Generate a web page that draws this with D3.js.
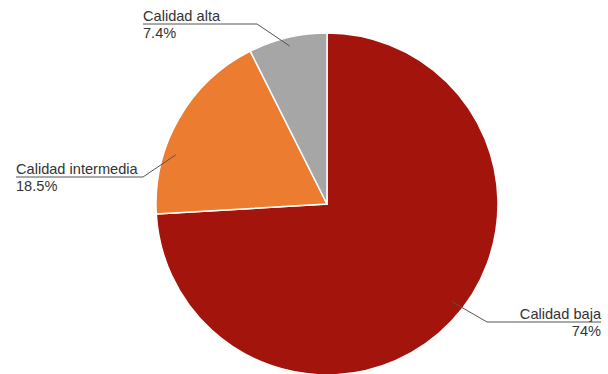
<!DOCTYPE html>
<html><head><meta charset="utf-8">
<script src="https://cdn.jsdelivr.net/npm/d3@7"></script>
<style>html,body{margin:0;padding:0;background:#fff;}svg{display:block;}</style>
</head><body>
<svg id="c" width="608" height="374"></svg>
<script>
const categories = ["Calidad baja", "Calidad intermedia", "Calidad alta"];
const values = [74, 18.5, 7.4];
const valueLabels = ["74%", "18.5%", "7.4%"];
const colors = ["#A3150C", "#EC7D30", "#A6A6A6"];

const svg = d3.select("#c");
const cx = 327, cy = 204, r = 171;
const g = svg.append("g").attr("transform", `translate(${cx},${cy})`);

const pie = d3.pie().sort(null).value(d => d);
const arcs = pie(values);
const arc = d3.arc().innerRadius(0).outerRadius(r);

g.selectAll("path.slice").data(arcs).enter().append("path")
  .attr("class", "slice")
  .attr("d", arc)
  .attr("fill", (d, i) => colors[i])
  .attr("stroke", "#fff").attr("stroke-width", 1.5);

const layout = [
  {frac: 0.48, rf: 0.93, elbowX: 487, lineY: 322, endX: 601, anchor: "end"},
  {frac: 0.32, rf: 0.93, elbowX: 143, lineY: 177, endX: 16, anchor: "start"},
  {frac: 0.5, rf: 0.95, elbowX: 257, lineY: 24, endX: 143, anchor: "start"}
];

arcs.forEach((d, i) => {
  const L = layout[i];
  const a = d.startAngle + L.frac * (d.endAngle - d.startAngle);
  const px = cx + Math.sin(a) * r * L.rf;
  const py = cy - Math.cos(a) * r * L.rf;
  svg.append("polyline")
    .attr("points", `${px},${py} ${L.elbowX},${L.lineY} ${L.endX},${L.lineY}`)
    .attr("fill", "none").attr("stroke", "#555").attr("stroke-width", 1);
  const tx = L.endX;
  svg.append("text").attr("x", tx).attr("y", L.lineY - 3)
    .attr("text-anchor", L.anchor)
    .attr("font-family", "Liberation Sans, Arial, sans-serif")
    .attr("font-size", 14.6).attr("fill", "#333")
    .text(categories[i]);
  svg.append("text").attr("x", tx).attr("y", L.lineY + 14)
    .attr("text-anchor", L.anchor)
    .attr("font-family", "Liberation Sans, Arial, sans-serif")
    .attr("font-size", 14.6).attr("fill", "#333")
    .text(valueLabels[i]);
});
</script>
</body></html>
